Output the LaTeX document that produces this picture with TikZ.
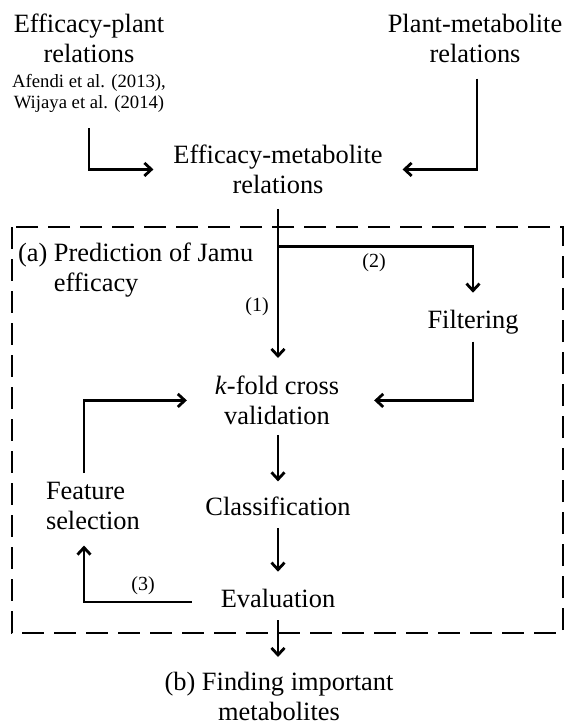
\documentclass[tikz,border=0pt]{standalone}
\usepackage{fontspec}
\setmainfont{Liberation Serif}
\usetikzlibrary{arrows.meta,calc}

\begin{document}
\begin{tikzpicture}[x=1pt,y=-1pt,
  every node/.style={inner sep=0pt, outer sep=0pt},
  txt/.style={font=\fontsize{26.4}{30}\selectfont, align=center},
  refs/.style={font=\fontsize{18.7}{21}\selectfont, align=center},
  lbl/.style={font=\fontsize{20}{22}\selectfont},
  arr/.style={line width=2.8pt, -{Straight Barb[length=7pt,width=13pt,line width=2.8pt]}},
  frame/.style={line width=2.8pt, dash pattern=on 22pt off 10pt}
]
\useasboundingbox (0,0) rectangle (565,725);

% sources
\node[txt, anchor=north] (ep) at (89,14) {Efficacy-plant\\relations};
\node[refs, anchor=north] (epref) at (89,74) {Afendi et al. (2013),\\Wijaya et al. (2014)};
\node[txt, anchor=north] (pm) at (475,14) {Plant-metabolite\\relations};
\node[txt, anchor=north] (em) at (278,145) {Efficacy-metabolite\\relations};

% prediction stage
\draw[frame] (12,227) rectangle (563,633);
\node[txt, align=left, anchor=north west] (pa) at (18,243) {(a) Prediction of Jamu\\\hphantom{(a) }efficacy};
\node[txt, anchor=north] (kf) at (277,376) {\textit{k}-fold cross\\validation};
\node[txt, anchor=base] (fi) at (473,328) {Filtering};
\node[txt, align=left, anchor=north west] (fs) at (46,482) {Feature\\selection};
\node[txt, anchor=base] (cl) at (278,515) {Classification};
\node[txt, anchor=base] (ev) at (278,607) {Evaluation};
\node[txt, anchor=north] (fb) at (279,672) {(b) Finding important\\metabolites};

% path labels
\node[lbl] (l1) at (257,307) {(1)};
\node[lbl] (l2) at (374,263) {(2)};
\node[lbl] (l3) at (143,586) {(3)};

% connectors
\draw[arr] ($(epref.south)+(0,16)$) |- ($(em.west)+(-20,0)$);
\draw[arr] ($(pm.south)+(2,16)$) |- ($(em.east)+(20,0)$);
\coordinate (fork) at ($(em.south)+(0,53)$);
\draw[arr] ($(em.south)+(0,15)$) -- ($(em.south |- kf.north)+(0,-18)$);
\draw[arr] (fork) -| ($(fi.north)+(0,-17)$);
\draw[arr] ($(fi.south)+(0,8)$) |- ($(kf.east)+(35,0)$);
\draw[arr] ($(em.south |- kf.south)+(0,10)$) -- ($(em.south |- cl.north)+(0,-15)$);
\draw[arr] ($(em.south |- cl.south)+(0,13)$) -- ($(em.south |- ev.north)+(0,-17)$);
\draw[arr] ($(em.south |- ev.south)+(0,13)$) -- ($(em.south |- fb.north)+(0,-15)$);
\draw[arr] ($(ev.west)+(-29,4)$) -| ($(fs.south west)+(38,16)$);
\draw[arr] ($(fs.north west)+(38,-9)$) |- ($(kf.west)+(-28,0)$);
\end{tikzpicture}
\end{document}
